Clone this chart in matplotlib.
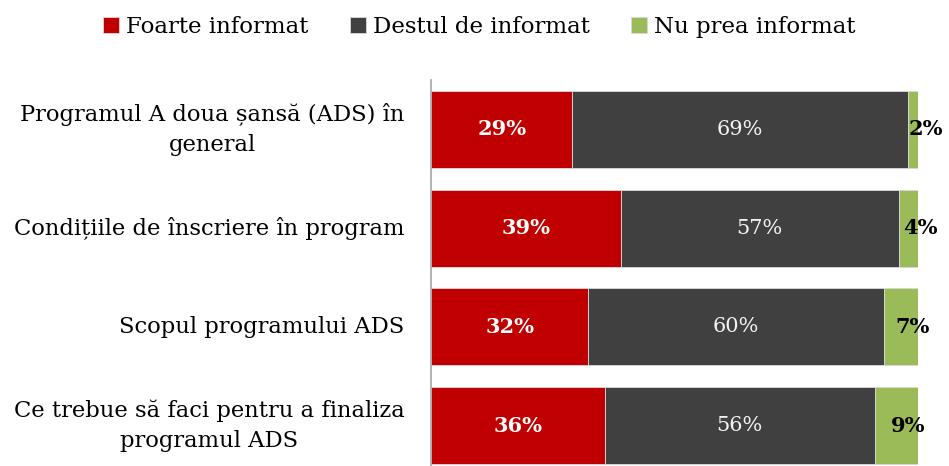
import numpy as np
import matplotlib.pyplot as plt

categories = [
    "Programul A doua șansă (ADS) în\ngeneral",
    "Condițiile de înscriere în program",
    "Scopul programului ADS",
    "Ce trebue să faci pentru a finaliza\nprogramul ADS",
]
series = ["Foarte informat", "Destul de informat", "Nu prea informat"]
foarte = [29, 39, 32, 36]
destul = [69, 57, 60, 56]
nu_prea = [2, 4, 7, 9]
colors = ["#C00000", "#404040", "#9BBB59"]

plt.rcParams["font.family"] = ["DejaVu Serif"]

fig = plt.figure(figsize=(9.49, 4.66), dpi=100)
ax = fig.add_axes([0.4542, 0.0, 0.5132, 0.828])

vals = np.array([foarte, destul, nu_prea], dtype=float)
# each bar is drawn at full width (100%)
shares = vals / vals.sum(axis=0) * 100
y = np.arange(len(categories))
left = np.zeros(len(categories))
for i, name in enumerate(series):
    ax.barh(y, shares[i], left=left, height=0.78, color=colors[i],
            edgecolor="#D9D9D9", linewidth=0.6, label=name)
    for j in range(len(categories)):
        cx = left[j] + shares[i][j] / 2
        txt = f"{int(vals[i][j])}%"
        if i == 0:
            ax.text(cx, y[j], txt, ha="center", va="center", color="white",
                    fontsize=15, fontweight="bold")
        elif i == 1:
            ax.text(cx, y[j], txt, ha="center", va="center", color="#F2F2F2",
                    fontsize=15)
        else:
            # small labels spill over the bar end, as in the original
            ax.text(cx + 2.5, y[j], txt, ha="center", va="center", color="black",
                    fontsize=15, fontweight="bold", clip_on=False)
    left += shares[i]

ax.set_xlim(0, 100)
ax.set_ylim(3.41, -0.5)
ax.set_yticks(y)
ax.set_yticklabels(categories, fontsize=16.3, multialignment="center",
                   linespacing=1.45)
for lbl in ax.get_yticklabels():
    lbl.set_va("center")
ax.tick_params(axis="y", length=0, pad=19)
ax.set_xticks([])
for s in ["top", "right", "bottom"]:
    ax.spines[s].set_visible(False)
ax.spines["left"].set_color("#A6A6A6")
ax.spines["left"].set_linewidth(1.2)

fig.legend(loc="upper center", bbox_to_anchor=(0.505, 1.01), ncol=3, frameon=False,
           fontsize=16.5, handlelength=0.7, handleheight=0.7, handletextpad=0.3,
           columnspacing=1.8)

fig.savefig("out.png", dpi=100)
